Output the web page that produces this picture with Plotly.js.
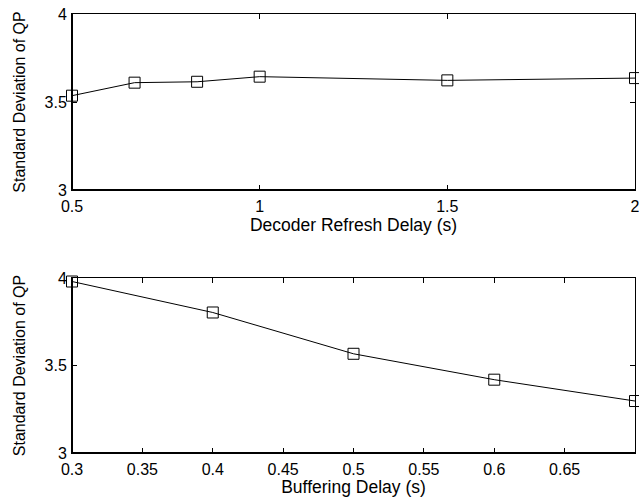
<!DOCTYPE html>
<html>
<head>
<meta charset="utf-8">
<script src="https://cdn.plot.ly/plotly-3.0.1.min.js"></script>
<style>html,body{margin:0;padding:0;background:#fff;}#chart{width:639px;height:497px;}</style>
</head>
<body>
<div id="chart"></div>
<script>
// Data
const refreshDelay = [0.5, 0.6667, 0.8333, 1.0, 1.5, 2.0];
const refreshStdQP = [3.536, 3.61, 3.615, 3.644, 3.623, 3.636];
const bufferingDelay = [0.3, 0.4, 0.5, 0.6, 0.7];
const bufferingStdQP = [3.98, 3.803, 3.567, 3.419, 3.297];
const topXTicks = [0.5, 1, 1.5, 2];
const topXTickText = ['0.5', '1', '1.5', '2'];
const botXTicks = [0.3, 0.35, 0.4, 0.45, 0.5, 0.55, 0.6, 0.65];
const botXTickText = ['0.3', '0.35', '0.4', '0.45', '0.5', '0.55', '0.6', '0.65'];
const yTicks = [3, 3.5, 4];
const yTickText = ['3', '3.5', '4'];
const yTitle = 'Standard Deviation of QP';
const topXTitle = 'Decoder Refresh Delay (s)';
const botXTitle = 'Buffering Delay (s)';

const FONT = 'Liberation Sans, Arial, Helvetica, sans-serif';
const markerStyle = {symbol: 'square-open', size: 11, color: '#000', line: {width: 1, color: '#000'}};

const traces = [
  {x: refreshDelay, y: refreshStdQP, xaxis: 'x', yaxis: 'y', type: 'scatter', mode: 'lines+markers',
   line: {color: '#000', width: 1}, marker: markerStyle, cliponaxis: false},
  {x: bufferingDelay, y: bufferingStdQP, xaxis: 'x2', yaxis: 'y2', type: 'scatter', mode: 'lines+markers',
   line: {color: '#000', width: 1}, marker: markerStyle, cliponaxis: false}
];

function xAxis(range, vals, text, title, anchor) {
  return {range: range, tickmode: 'array', tickvals: vals, ticktext: text, ticks: 'inside', ticklen: 5,
    tickwidth: 1, tickcolor: '#000', mirror: 'ticks', showline: true, linecolor: '#000', linewidth: 1,
    showgrid: false, zeroline: false, anchor: anchor, ticklabeloverflow: 'allow', ticklabelstandoff: 2,
    tickfont: {family: FONT, size: 16, color: '#000'},
    title: {text: title, font: {family: FONT, size: 17.5, color: '#000'}, standoff: 2}};
}
function yAxis(domain, anchor) {
  return {range: [3, 4], domain: domain, tickmode: 'array', tickvals: yTicks, ticktext: yTickText,
    ticks: 'inside', ticklen: 5, tickwidth: 1, tickcolor: '#000', mirror: 'ticks', showline: true,
    linecolor: '#000', linewidth: 1, showgrid: false, zeroline: false, anchor: anchor,
    ticklabeloverflow: 'allow', ticklabelstandoff: 1,
    tickfont: {family: FONT, size: 16, color: '#000'},
    title: {text: yTitle, font: {family: FONT, size: 16, color: '#000'}, standoff: 14}};
}

function thickEdges(xr, yr) {
  return [
    {type: 'line', xref: xr + ' domain', yref: yr + ' domain', x0: 0, x1: 0, y0: 0, y1: 1,
     line: {color: '#000', width: 2}},
    {type: 'line', xref: xr + ' domain', yref: yr + ' domain', x0: 0, x1: 1, y0: 0, y1: 0,
     line: {color: '#000', width: 2}}
  ];
}

const layout = {
  width: 639, height: 497,
  margin: {l: 72, r: 4, t: 14, b: 44},
  paper_bgcolor: '#fff', plot_bgcolor: '#fff',
  showlegend: false,
  xaxis: xAxis([0.5, 2], topXTicks, topXTickText, topXTitle, 'y'),
  yaxis: yAxis([0.599, 1], 'x'),
  xaxis2: xAxis([0.3, 0.7], botXTicks, botXTickText, botXTitle, 'y2'),
  yaxis2: yAxis([0, 0.3986], 'x2'),
  shapes: thickEdges('x', 'y').concat(thickEdges('x2', 'y2')),
  font: {family: FONT, color: '#000'}
};

Plotly.newPlot('chart', traces, layout, {staticPlot: true, displayModeBar: false});
</script>
</body>
</html>
